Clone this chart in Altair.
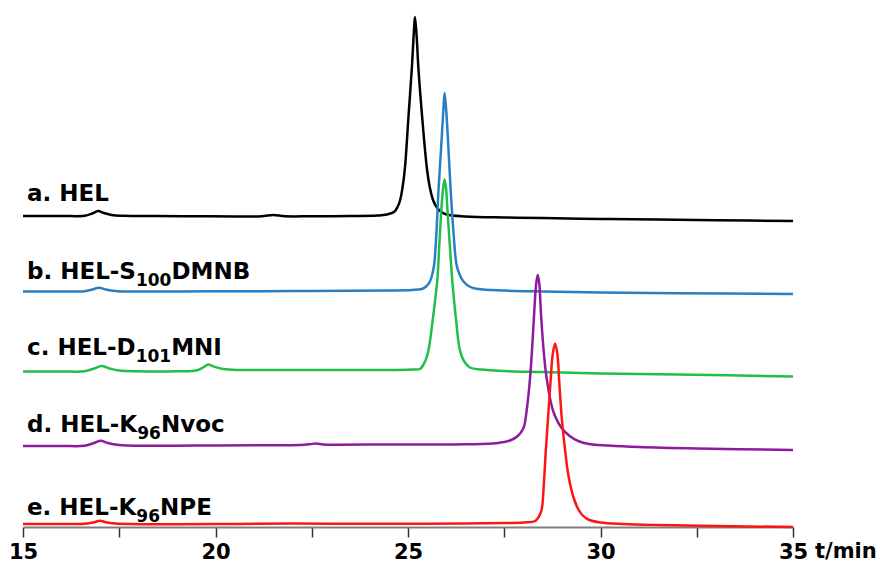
import altair as alt
import pandas as pd

# ---------------- data ----------------
trace_names = ["a", "b", "c", "d", "e"]
trace_colors = ["#000000", "#2a7fc2", "#1fbf48", "#8c1c9c", "#ff1414"]
trace_offsets = [62.2, 47.1, 31.1, 16.2, 0.6]

t_a = [15.0, 16.0, 16.6, 16.8, 16.95, 17.1, 17.3, 17.6, 18.5, 19.5, 20.5, 21.2, 21.5, 21.8, 22.5, 23.5,
       24.2, 24.45, 24.65, 24.72, 24.79, 24.86, 24.92, 25.01, 25.10, 25.15, 25.18, 25.22, 25.27, 25.37,
       25.49, 25.57, 25.66, 25.75, 25.85, 26.0, 26.5, 27.5, 28.5, 30.0, 31.5, 33.0, 35.0]
s_a = [0.0, 0.0, 0.05, 0.5, 1.0, 0.6, 0.2, 0.05, 0.0, -0.05, -0.1, -0.05, 0.2, -0.05, -0.05, 0.0,
       0.1, 0.3, 0.9, 1.7, 3.0, 5.8, 9.6, 19.6, 29.6, 36.5, 39.8, 36.5, 29.6, 19.6,
       9.6, 5.6, 3.0, 1.7, 0.9, 0.3, -0.1, -0.3, -0.4, -0.6, -0.7, -0.85, -1.0]

t_b = [15.0, 16.0, 16.6, 16.8, 16.97, 17.15, 17.4, 17.8, 19.0, 20.5, 22.0, 23.5, 24.5, 25.1, 25.36,
       25.47, 25.57, 25.63, 25.68, 25.74, 25.79, 25.86, 25.92, 25.95, 25.99, 26.05, 26.11, 26.18,
       26.26, 26.34, 26.44, 26.62, 26.82, 27.5, 28.5, 30.0, 32.0, 35.0]
s_b = [0.0, 0.0, 0.05, 0.4, 0.75, 0.4, 0.1, 0.0, 0.0, 0.05, 0.1, 0.15, 0.2, 0.3, 0.5,
       1.0, 2.0, 3.4, 5.4, 12.0, 20.0, 28.7, 36.5, 39.7, 36.5, 28.7, 20.0, 12.0,
       5.4, 3.4, 2.0, 0.9, 0.5, 0.2, 0.0, -0.2, -0.35, -0.5]

t_c = [15.0, 16.0, 16.6, 16.85, 17.04, 17.25, 17.5, 18.0, 19.0, 19.5, 19.7, 19.81, 19.95, 20.2, 20.6,
       21.5, 23.0, 24.5, 25.1, 25.31, 25.43, 25.53, 25.64, 25.76, 25.81, 25.86, 25.91, 25.95, 25.99,
       26.03, 26.09, 26.15, 26.25, 26.35, 26.46, 26.61, 26.9, 27.5, 28.5, 30.0, 32.0, 35.0]
s_c = [0.0, 0.0, 0.05, 0.6, 1.1, 0.6, 0.2, 0.05, 0.05, 0.2, 0.9, 1.4, 1.0, 0.5, 0.3,
       0.3, 0.3, 0.3, 0.4, 0.5, 1.8, 4.2, 10.2, 18.2, 24.8, 31.6, 36.5, 38.4, 36.5,
       31.6, 24.8, 18.2, 10.2, 4.2, 2.0, 0.8, 0.4, 0.1, -0.1, -0.4, -0.6, -1.0]

t_d = [15.0, 16.0, 16.6, 16.85, 17.02, 17.2, 17.5, 18.0, 19.5, 21.0, 22.2, 22.45, 22.61, 22.8, 23.2,
       24.5, 25.5, 26.5, 27.3, 27.65, 27.85, 28.0, 28.08, 28.17, 28.23, 28.28, 28.33, 28.37, 28.41,
       28.45, 28.51, 28.60, 28.77, 28.99, 29.2, 29.42, 29.7, 30.2, 31.0, 32.5, 35.0]
s_d = [0.0, 0.0, 0.05, 0.6, 1.05, 0.6, 0.2, 0.05, 0.1, 0.15, 0.2, 0.35, 0.5, 0.3, 0.25,
       0.3, 0.3, 0.35, 0.55, 1.1, 2.0, 3.6, 7.0, 13.6, 20.3, 27.0, 32.5, 34.2, 32.5,
       27.0, 20.3, 13.6, 7.0, 3.6, 2.0, 1.0, 0.4, 0.1, -0.2, -0.5, -0.8]

t_e = [15.0, 16.0, 16.6, 16.85, 17.0, 17.15, 17.4, 17.8, 19.0, 20.5, 22.0, 23.5, 25.0, 26.5, 27.5,
       28.0, 28.3, 28.40, 28.47, 28.53, 28.58, 28.64, 28.70, 28.76, 28.82, 28.88, 28.93, 28.99, 29.08,
       29.14, 29.21, 29.30, 29.42, 29.54, 29.68, 30.0, 30.6, 31.5, 33.0, 35.0]
s_e = [0.0, 0.0, 0.05, 0.35, 0.65, 0.35, 0.1, 0.0, -0.05, 0.0, 0.1, 0.05, 0.05, 0.1, 0.2,
       0.3, 0.6, 1.5, 2.8, 8.2, 14.8, 21.5, 28.2, 34.0, 36.1, 34.0, 28.2, 21.5, 14.8,
       11.0, 8.0, 5.3, 3.0, 1.7, 0.9, 0.3, 0.0, -0.2, -0.4, -0.6]

trace_t = [t_a, t_b, t_c, t_d, t_e]
trace_s = [s_a, s_b, s_c, s_d, s_e]

# label texts: (segment, is_subscript)
label_segments = [
    [("a. HEL", False)],
    [("b. HEL-S", False), ("100", True), ("DMNB", False)],
    [("c. HEL-D", False), ("101", True), ("MNI", False)],
    [("d. HEL-K", False), ("96", True), ("Nvoc", False)],
    [("e. HEL-K", False), ("96", True), ("NPE", False)],
]
label_baselines = [65.2, 49.6, 34.4, 19.0, 2.4]

tick_values = [15, 17.5, 20, 22.5, 25, 27.5, 30, 32.5, 35]
x_title = "t/min"

# ---------------- layout ----------------
W, H = 770, 515
X_DOM = [15, 35]
Y_DOM = [0, 103]
FONT = "DejaVu Sans"
MAIN_FS, SUB_FS = 23, 17
TICK_FS = 21
SUB_DROP = 1.3  # data units (= 6.5 px)

# approximate DejaVu Sans Bold advance widths (em)
adv = {" ": 0.348, ".": 0.380, "-": 0.415, "a": 0.675, "b": 0.716, "c": 0.595, "d": 0.716,
       "e": 0.678, "o": 0.687, "v": 0.650, "B": 0.762, "D": 0.830, "E": 0.683, "H": 0.838,
       "I": 0.372, "K": 0.776, "L": 0.637, "M": 0.993, "N": 0.838, "P": 0.733, "S": 0.720}
for dgt in "0123456789":
    adv[dgt] = 0.696

px_per_t = W / (X_DOM[1] - X_DOM[0])

rows = []
for name, off, ts, ss in zip(trace_names, trace_offsets, trace_t, trace_s):
    for t, s in zip(ts, ss):
        rows.append({"trace": name, "t": t, "y": off + s})
df = pd.DataFrame(rows)

lab_rows = []
for name, segs, base in zip(trace_names, label_segments, label_baselines):
    xpx = 4.0
    for txt, sub in segs:
        fs = SUB_FS if sub else MAIN_FS
        lab_rows.append({"trace": name, "text": txt, "fs": fs,
                         "t": X_DOM[0] + xpx / px_per_t,
                         "y": base - (SUB_DROP if sub else 0.0)})
        xpx += sum(adv.get(ch, 0.65) for ch in txt) * fs
lab_df = pd.DataFrame(lab_rows)

x_scale = alt.Scale(domain=X_DOM, nice=False, zero=False)
y_scale = alt.Scale(domain=Y_DOM, nice=False, zero=False)

x_axis = alt.Axis(values=tick_values, title=None, grid=False,
                  labelExpr="datum.value % 5 == 0 ? format(datum.value, 'd') : ''",
                  tickSize=10, tickWidth=1.5, tickColor="#333333",
                  domainColor="#7f7f7f", domainWidth=2,
                  labelFont=FONT, labelFontSize=TICK_FS, labelFontWeight="bold",
                  labelColor="#000000", labelPadding=4, labelFlush=False,
                  labelOverlap=False)

X_ENC = alt.X("t:Q", scale=x_scale, axis=x_axis)
Y_ENC = alt.Y("y:Q", scale=y_scale, axis=None)

layers = []
for name, col in zip(trace_names, trace_colors):
    layers.append(
        alt.Chart(df[df.trace == name]).mark_line(
            color=col, strokeWidth=2.5, interpolate="catmull-rom"
        ).encode(x=X_ENC, y=Y_ENC)
    )

labels = alt.Chart(lab_df).mark_text(
    align="left", baseline="alphabetic", font=FONT, fontWeight="bold", color="#000000"
).encode(
    x=X_ENC, y=Y_ENC,
    text="text:N",
    size=alt.Size("fs:Q", scale=None, legend=None),
)

unit_df = pd.DataFrame({"t": [X_DOM[1]], "y": [Y_DOM[0]], "text": [x_title]})
unit = alt.Chart(unit_df).mark_text(
    align="left", baseline="top", font=FONT, fontWeight="bold", fontSize=TICK_FS,
    color="#000000", dx=22, dy=14
).encode(x=X_ENC, y=Y_ENC, text="text:N")

chart = alt.layer(*layers, labels, unit).properties(
    width=W, height=H,
    padding={"left": 15, "top": 4, "right": 85, "bottom": 42},
    autosize="none",
    background="white",
).configure_view(stroke=None)

chart.save("out.html", embed_options={"renderer": "svg", "actions": False})
